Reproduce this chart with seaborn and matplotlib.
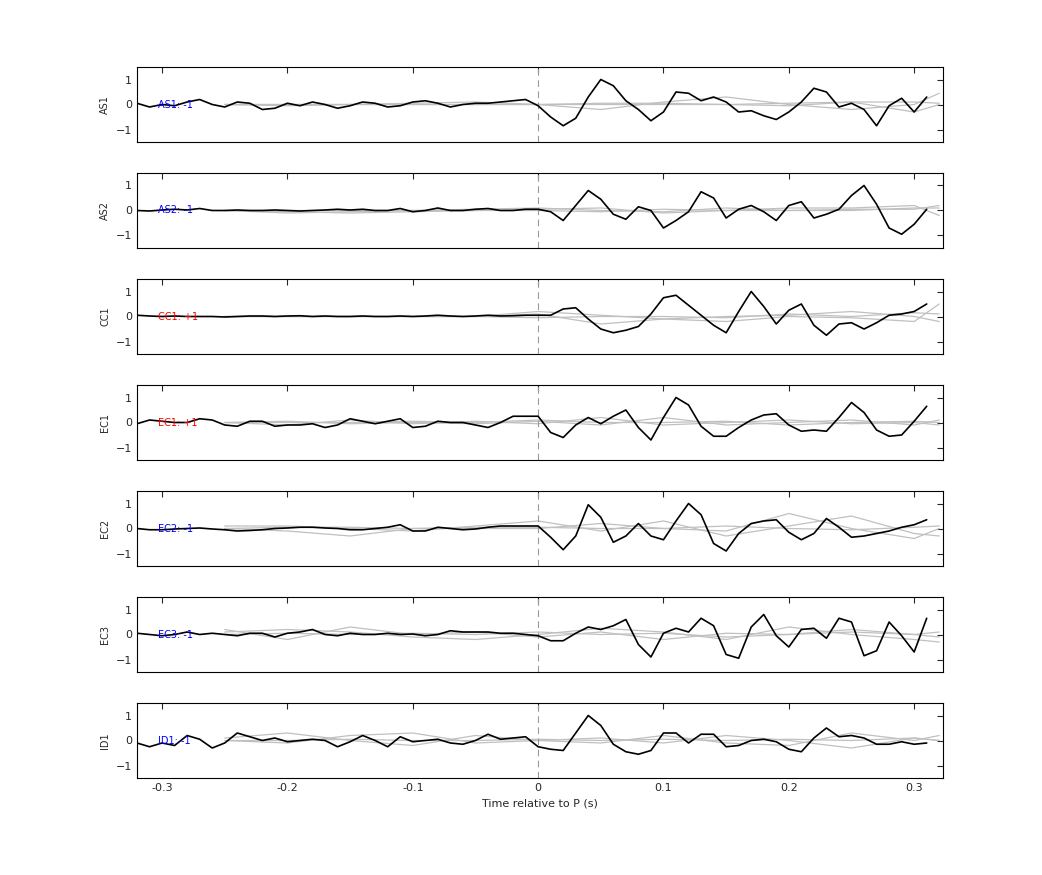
import numpy as np
import pandas as pd
import matplotlib
matplotlib.use("Agg")
import matplotlib.pyplot as plt
import seaborn as sns

sns.set_style("white")
plt.rcParams['font.family'] = ['DejaVu Sans']

times = [round(-0.32 + 0.01 * i, 2) for i in range(64)]
stations = ["AS1", "AS2", "CC1", "EC1", "EC2", "EC3", "ID1"]
polarity = ["-1", "-1", "+1", "+1", "-1", "-1", "-1"]
pol_colors = ["blue", "blue", "red", "red", "blue", "blue", "blue"]

AS1 = [0.05, -0.1, 0.0, -0.05, 0.1, 0.2, 0.0, -0.1, 0.1, 0.05, -0.2, -0.15, 0.05, -0.05, 0.1, 0.0,
       -0.15, -0.05, 0.1, 0.05, -0.1, -0.05, 0.1, 0.15, 0.05, -0.1, 0.0, 0.05, 0.05, 0.1, 0.15, 0.2,
       -0.05, -0.5, -0.85, -0.55, 0.3, 1.0, 0.75, 0.15, -0.2, -0.65, -0.3, 0.5, 0.45, 0.15, 0.3, 0.1,
       -0.3, -0.25, -0.45, -0.6, -0.3, 0.1, 0.65, 0.5, -0.1, 0.05, -0.2, -0.85, -0.05, 0.25, -0.3, 0.3]
AS2 = [0.0, -0.02, 0.02, 0.05, 0.02, 0.08, 0.0, 0.0, 0.02, 0.0, 0.0, 0.02, 0.0, -0.02, 0.0, 0.02,
       0.05, 0.02, 0.05, 0.0, 0.0, 0.08, -0.05, 0.0, 0.1, 0.0, 0.0, 0.05, 0.08, 0.0, 0.0, 0.05,
       0.05, -0.05, -0.4, 0.2, 0.8, 0.45, -0.15, -0.35, 0.15, 0.0, -0.7, -0.4, -0.05, 0.75, 0.5, -0.3,
       0.05, 0.2, -0.05, -0.4, 0.2, 0.35, -0.3, -0.15, 0.05, 0.6, 1.0, 0.25, -0.7, -0.95, -0.55, 0.05]
CC1 = [0.05, 0.02, 0.0, 0.02, 0.0, 0.0, 0.0, -0.02, 0.0, 0.02, 0.02, 0.0, 0.02, 0.03, 0.0, 0.02,
       0.0, 0.0, 0.02, 0.0, 0.0, 0.02, 0.0, 0.02, 0.05, 0.02, 0.0, 0.02, 0.05, 0.02, 0.03, 0.05,
       0.05, 0.05, 0.3, 0.35, -0.1, -0.5, -0.65, -0.55, -0.4, 0.1, 0.75, 0.85, 0.45, 0.05, -0.35, -0.65,
       0.2, 1.0, 0.4, -0.3, 0.25, 0.5, -0.35, -0.75, -0.3, -0.25, -0.5, -0.25, 0.05, 0.1, 0.2, 0.5]
EC1 = [-0.05, 0.1, 0.05, 0.0, 0.0, 0.15, 0.1, -0.1, -0.15, 0.05, 0.05, -0.15, -0.1, -0.1, -0.05, -0.2,
       -0.1, 0.15, 0.05, -0.05, 0.05, 0.15, -0.2, -0.15, 0.05, 0.0, 0.0, -0.1, -0.2, 0.0, 0.25, 0.25,
       0.25, -0.4, -0.6, -0.1, 0.2, -0.05, 0.25, 0.5, -0.2, -0.7, 0.2, 1.0, 0.7, -0.15, -0.55, -0.55,
       -0.2, 0.1, 0.3, 0.35, -0.1, -0.35, -0.3, -0.35, 0.2, 0.8, 0.4, -0.3, -0.55, -0.5, 0.05, 0.65]
EC2 = [0.0, -0.05, -0.05, -0.02, 0.0, 0.02, -0.02, -0.05, -0.1, -0.08, -0.05, 0.0, 0.02, 0.05, 0.05, 0.02,
       0.0, -0.05, -0.05, 0.0, 0.05, 0.15, -0.1, -0.1, 0.05, 0.0, -0.05, -0.02, 0.05, 0.1, 0.1, 0.1,
       0.1, -0.35, -0.85, -0.3, 0.95, 0.45, -0.55, -0.3, 0.2, -0.3, -0.45, 0.3, 1.0, 0.55, -0.6, -0.9,
       -0.2, 0.2, 0.3, 0.35, -0.15, -0.45, -0.2, 0.4, 0.05, -0.35, -0.3, -0.2, -0.1, 0.05, 0.15, 0.35]
EC3 = [0.05, 0.0, -0.05, 0.0, 0.1, 0.0, 0.05, 0.0, -0.05, 0.05, 0.05, -0.1, 0.05, 0.1, 0.2, 0.0,
       -0.05, 0.05, 0.0, 0.0, 0.05, 0.0, 0.02, -0.05, 0.0, 0.15, 0.1, 0.1, 0.1, 0.05, 0.05, 0.0,
       -0.05, -0.25, -0.25, 0.05, 0.3, 0.2, 0.35, 0.6, -0.4, -0.9, 0.05, 0.25, 0.1, 0.65, 0.35, -0.8,
       -0.95, 0.3, 0.8, -0.05, -0.5, 0.2, 0.25, -0.15, 0.65, 0.5, -0.85, -0.65, 0.5, -0.05, -0.7, 0.65]
ID1 = [-0.1, -0.25, -0.1, -0.2, 0.2, 0.05, -0.3, -0.1, 0.3, 0.15, 0.0, 0.1, -0.05, 0.0, 0.05, 0.0,
       -0.25, -0.05, 0.2, 0.0, -0.25, 0.15, -0.05, 0.0, 0.05, -0.1, -0.15, 0.0, 0.25, 0.05, 0.1, 0.15,
       -0.25, -0.35, -0.4, 0.3, 1.0, 0.6, -0.15, -0.45, -0.55, -0.4, 0.3, 0.3, -0.1, 0.25, 0.25, -0.25,
       -0.2, 0.0, 0.05, -0.05, -0.35, -0.45, 0.1, 0.5, 0.15, 0.2, 0.1, -0.15, -0.15, -0.05, -0.15, -0.1]
traces = [AS1, AS2, CC1, EC1, EC2, EC3, ID1]

# grey model traces, coarse samples every 0.05 s from -0.25 to 0.30 (plus 0.32)
grey_t = [-0.25, -0.2, -0.15, -0.1, -0.05, 0.0, 0.05, 0.1, 0.15, 0.2, 0.25, 0.3, 0.32]
grey_sets = [
    [[0, 0, 0, 0.05, 0.1, 0.0, -0.2, 0.1, 0.3, 0.0, -0.2, 0.0, 0.45],
     [0, 0, 0, 0, 0, 0.0, 0.05, 0.05, 0.0, -0.05, 0.1, -0.3, 0.0],
     [0, -0.05, 0, 0, 0, 0.0, 0.0, 0.0, 0.0, 0.05, 0.1, 0.1, 0.05]],
    [[0, -0.1, -0.05, 0, 0, 0.05, 0.1, -0.1, 0.0, 0.1, 0.1, 0.2, -0.2],
     [0, -0.05, -0.1, -0.05, 0, 0.0, -0.05, 0.05, 0.0, 0.0, 0.05, 0.05, 0.2],
     [0, 0.0, 0.0, 0.0, 0.05, 0.1, 0.0, -0.05, 0.1, 0.0, 0.0, 0.1, 0.1]],
    [[0, 0, 0, 0, 0, 0.1, -0.3, -0.1, 0.0, 0.05, 0.2, 0.0, -0.2],
     [0, 0, 0, 0, 0, 0.2, 0.05, -0.1, -0.2, 0.0, -0.05, -0.2, 0.5],
     [0, 0, 0, 0, 0, -0.05, 0.0, 0.0, -0.05, 0.1, 0.0, 0.15, 0.1]],
    [[0, -0.1, 0.1, -0.05, 0.05, -0.05, 0.2, -0.1, 0.0, 0.1, -0.05, 0.0, -0.1],
     [0, 0.05, -0.05, 0.0, -0.05, 0.05, -0.1, 0.2, -0.1, 0.0, 0.1, -0.1, 0.1],
     [0, 0.0, 0.0, 0.05, 0.0, 0.1, 0.0, 0.0, 0.05, -0.1, 0.0, 0.05, 0.0]],
    [[0.1, 0.1, 0.0, -0.1, 0.1, 0.3, -0.1, 0.3, -0.3, 0.1, 0.5, -0.2, -0.3],
     [0, -0.1, -0.3, 0.0, 0.0, 0.0, 0.2, 0.0, -0.1, 0.6, 0.0, -0.4, 0.0],
     [0, 0.05, 0.05, 0.0, 0.05, 0.05, 0.0, 0.0, 0.1, 0.0, -0.05, 0.05, 0.1]],
    [[0.1, 0.2, 0.1, -0.1, -0.2, 0.0, 0.25, 0.1, -0.2, 0.3, 0.0, -0.2, -0.3],
     [0.2, -0.2, 0.3, 0.0, 0.1, -0.1, 0.1, -0.2, 0.05, 0.0, 0.2, 0.0, 0.1],
     [0, 0.05, 0.0, 0.05, 0.0, 0.1, 0.0, 0.05, -0.1, 0.0, 0.1, 0.0, -0.1]],
    [[0.1, 0.3, 0.0, -0.2, 0.2, 0.0, -0.1, 0.2, -0.1, -0.2, 0.3, 0.0, 0.2],
     [0, -0.1, 0.2, 0.3, -0.1, 0.0, 0.1, -0.1, 0.2, 0.0, -0.3, 0.1, 0.0],
     [0, 0.0, 0.05, 0.0, 0.0, 0.05, 0.0, 0.05, 0.0, 0.05, 0.0, 0.1, 0.0]],
]

fig = plt.figure(figsize=(10.42, 8.75), dpi=100)
W, H = 1042, 875
left, right = 137, 943
tops = [67, 173, 279, 385, 491, 597, 703]
ph = 75
for i, st in enumerate(stations):
    ax = fig.add_axes([left / W, 1 - (tops[i] + ph) / H, (right - left) / W, ph / H])
    for g in grey_sets[i]:
        sns.lineplot(x=grey_t, y=g, ax=ax, color="#c0c0c0", lw=0.9, estimator=None, sort=False)
    ax.axvline(0, color="#999999", lw=0.8, ls=(0, (6, 4)))
    sns.lineplot(x=times, y=traces[i], ax=ax, color="black", lw=1.2, estimator=None, sort=False)
    ax.set_xlim(-0.32, 0.323)
    ax.set_ylim(-1.5, 1.5)
    ax.set_yticks([-1, 0, 1])
    ax.set_xticks([-0.3, -0.2, -0.1, 0, 0.1, 0.2, 0.3])
    ax.tick_params(direction="in", top=True, right=True, labelsize=8, length=4, width=0.8)
    ax.set_ylabel(st, fontsize=7)
    ax.text(-0.303, 0, f"{st}: {polarity[i]}", color=pol_colors[i], fontsize=7, va="center")
    for s in ax.spines.values():
        s.set_linewidth(0.8)
        s.set_color("black")
    if i < len(stations) - 1:
        ax.set_xticklabels([])
    else:
        ax.set_xticklabels(["-0.3", "-0.2", "-0.1", "0", "0.1", "0.2", "0.3"])
        ax.set_xlabel("Time relative to P (s)", fontsize=8)

fig.savefig("out.png", dpi=100)
